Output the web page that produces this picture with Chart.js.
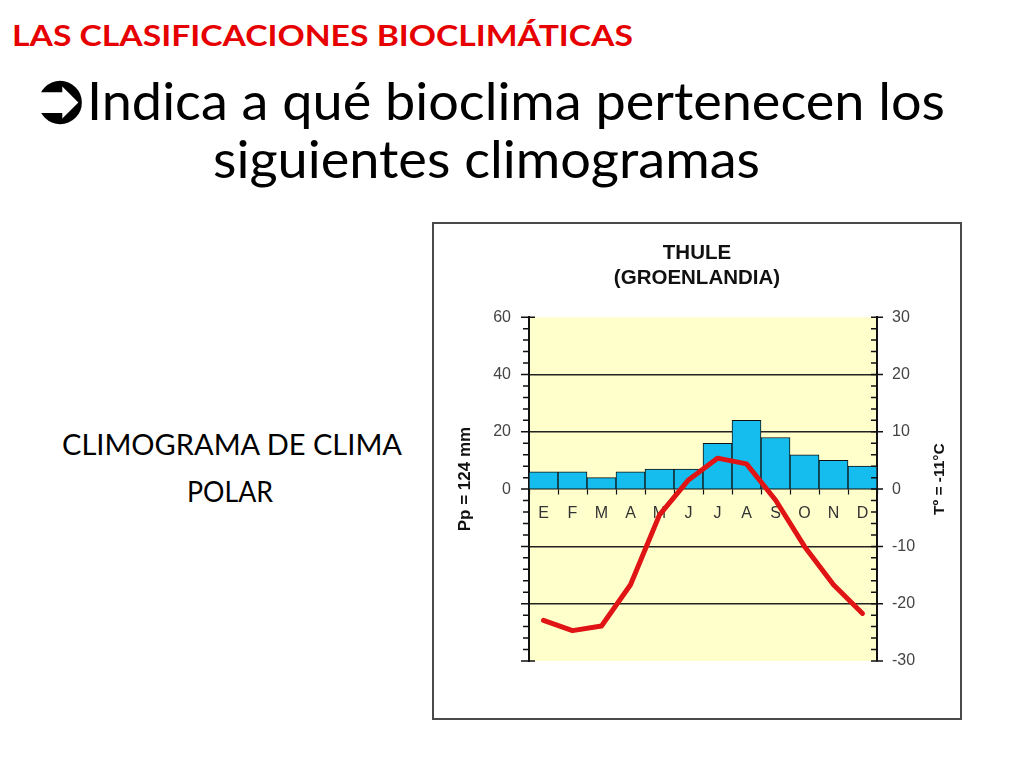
<!DOCTYPE html>
<html>
<head>
<meta charset="utf-8">
<script src="https://cdn.jsdelivr.net/npm/chart.js@4.4.1/dist/chart.umd.min.js"></script>
<style>
  html,body{margin:0;padding:0;background:#fff;}
  body{width:1024px;height:768px;position:relative;overflow:hidden;}
  .t{position:absolute;white-space:nowrap;transform-origin:0 0;display:inline-block;}
  #hdr{font-family:Lato,'Open Sans',sans-serif;font-weight:bold;font-size:28px;line-height:28px;color:#e60000;}
  .big{font-family:Lato,'Open Sans',sans-serif;font-size:52px;line-height:52px;color:#000;}
  .mid{font-family:Lato,'Open Sans',sans-serif;font-size:29px;line-height:29px;color:#000;}
  #arrow{position:absolute;left:30px;top:62px;font-family:'DejaVu Sans',sans-serif;font-size:72px;line-height:72px;color:#000;white-space:nowrap;}
  #frame{position:absolute;left:432px;top:222px;width:530px;height:498px;box-sizing:border-box;border:2px solid #4a4a4a;background:#fff;}
  #frame canvas{position:absolute;left:0;top:0;}
</style>
</head>
<body>
<span id="hdr" class="t" data-x="12" data-w="621" style="top:21px;">LAS CLASIFICACIONES BIOCLIMÁTICAS</span>
<span id="arrow">➲</span>
<span class="t big" data-x="87" data-w="858" style="top:74px;">Indica a qué bioclima pertenecen los</span>
<span class="t big" data-x="213" data-w="547" style="top:132px;">siguientes climogramas</span>
<span class="t mid" data-x="62" data-w="340" style="top:429px;">CLIMOGRAMA DE CLIMA</span>
<span class="t mid" data-x="187" data-w="86" style="top:476px;">POLAR</span>

<div id="frame"><canvas id="c" width="526" height="494"></canvas></div>

<script>
// ---- data ----
const months = ['E','F','M','A','M','J','J','A','S','O','N','D'];
const precipitation = [6, 6, 4, 6, 7, 7, 16, 24, 18, 12, 10, 8];       // mm
const temperature = [-22.9, -24.7, -23.9, -16.7, -4.5, 1.6, 5.4, 4.4, -1.9, -10, -16.7, -21.7]; // ºC
const chartTitle = ['THULE', '(GROENLANDIA)'];
const precipTitle = 'Pp = 124 mm';
const tempTitle = 'Tº = -11°C';
const precipLabelValues = [0, 20, 40, 60];
const tempLabelValues = [-30, -20, -10, 0, 10, 20, 30];
const tempGridValues = [-20, -10, 10, 20];

// ---- text fitting ----
function fitTexts(){
  document.querySelectorAll('.t').forEach(el=>{
    el.style.transform='none';
    el.style.left = el.dataset.x + 'px';
    const w = el.getBoundingClientRect().width;
    const target = parseFloat(el.dataset.w);
    if (w > 0) el.style.transform = 'scaleX(' + (target / w) + ')';
  });
}
fitTexts();
if (document.fonts && document.fonts.ready) document.fonts.ready.then(fitTexts);

// ---- plugins ----
const yellowBg = {
  id: 'yellowBg',
  beforeDraw(chart){
    const {ctx, chartArea:a} = chart;
    ctx.save();
    ctx.fillStyle = '#ffffcc';
    ctx.fillRect(a.left, a.top, a.right - a.left, a.bottom - a.top);
    ctx.restore();
  }
};

const axisTicks = {
  id: 'axisTicks',
  afterDraw(chart){
    const ctx = chart.ctx;
    const y = chart.scales.y, y1 = chart.scales.y1;
    ctx.save();
    ctx.strokeStyle = '#111';
    ctx.lineWidth = 1.5;
    ctx.beginPath();
    const ax = chart.chartArea.left;
    y.ticks.forEach(t=>{
      const p = y.getPixelForValue(t.value);
      const major = t.value % 20 === 0;
      const cap = Math.abs(t.value) === 60;
      ctx.moveTo(ax - (major ? 8 : 6), p);
      ctx.lineTo(ax + (cap ? 6 : 0), p);
    });
    const bx = chart.chartArea.right;
    y1.ticks.forEach(t=>{
      const p = y1.getPixelForValue(t.value);
      const major = t.value % 10 === 0;
      ctx.moveTo(bx - 6, p);
      ctx.lineTo(bx + (major ? 6 : 0), p);
    });
    ctx.stroke();
    ctx.restore();
  }
};

const axisTitles = {
  id: 'axisTitles',
  afterDraw(chart){
    const {ctx, chartArea:a} = chart;
    const cy = (a.top + a.bottom) / 2 - 10;
    ctx.save();
    ctx.fillStyle = '#111';
    ctx.textAlign = 'center';
    ctx.textBaseline = 'middle';
    [[a.left - 64, precipTitle, 17], [a.right + 63, tempTitle, 15.5]].forEach(([x, txt, size])=>{
      ctx.save();
      ctx.font = 'bold ' + size + 'px "Liberation Sans", Arial, sans-serif';
      ctx.translate(x, cy);
      ctx.rotate(-Math.PI / 2);
      ctx.fillText(txt, 0, 0);
      ctx.restore();
    });
    ctx.restore();
  }
};

const tickFont = {family: '"Liberation Sans", Arial, sans-serif', size: 16};

new Chart(document.getElementById('c'), {
  data: {
    labels: months,
    datasets: [
      {
        type: 'line',
        label: 'Temperatura',
        data: temperature,
        yAxisID: 'y1',
        borderColor: '#e01414',
        borderWidth: 5,
        borderJoinStyle: 'round',
        borderCapStyle: 'round',
        pointRadius: 0,
        tension: 0,
        fill: false,
        order: 0
      },
      {
        type: 'bar',
        label: 'Precipitación',
        data: precipitation,
        yAxisID: 'y',
        backgroundColor: '#14bdee',
        borderColor: '#111',
        borderWidth: 1,
        barPercentage: 1,
        categoryPercentage: 1,
        order: 1
      }
    ]
  },
  options: {
    responsive: false,
    maintainAspectRatio: false,
    animation: false,
    devicePixelRatio: 1,
    layout: {padding: {left: 0, right: 0, top: 0, bottom: 57}},
    plugins: {
      legend: {display: false},
      tooltip: {enabled: false},
      title: {
        display: true,
        text: chartTitle,
        color: '#111',
        font: {family: '"Liberation Sans", Arial, sans-serif', size: 20.5, weight: 'bold', lineHeight: 1.2},
        padding: {top: 17, bottom: 27}
      }
    },
    scales: {
      x: {
        type: 'category',
        position: {y: 0},
        offset: true,
        grid: {display: true, drawOnChartArea: false, drawTicks: true, tickLength: 5, tickColor: '#111', tickWidth: 1.2, offset: true},
        border: {display: true, color: '#111', width: 1.5},
        ticks: {color: '#333', font: tickFont, padding: 10, autoSkip: false, maxRotation: 0}
      },
      y: {
        type: 'linear',
        position: 'left',
        min: -60, max: 60,
        afterFit(scale){ scale.width = 95; },
        grid: {display: true, drawOnChartArea: false, drawTicks: false},
        border: {display: true, color: '#111', width: 2},
        ticks: {
          stepSize: 4, autoSkip: false, color: '#444', font: tickFont, padding: 18,
          callback: v => precipLabelValues.includes(v) ? String(v) : ''
        }
      },
      y1: {
        type: 'linear',
        position: 'right',
        min: -30, max: 30,
        afterFit(scale){ scale.width = 83; },
        grid: {
          display: true, drawOnChartArea: true, drawTicks: false, lineWidth: 1.5,
          color: ctx => (ctx.tick && tempGridValues.includes(ctx.tick.value)) ? '#222' : 'rgba(0,0,0,0)'
        },
        border: {display: true, color: '#111', width: 2},
        ticks: {
          stepSize: 2, autoSkip: false, color: '#444', font: tickFont, padding: 15,
          callback: v => tempLabelValues.includes(v) ? String(v) : ''
        }
      }
    }
  },
  plugins: [yellowBg, axisTicks, axisTitles]
});
</script>
</body>
</html>
